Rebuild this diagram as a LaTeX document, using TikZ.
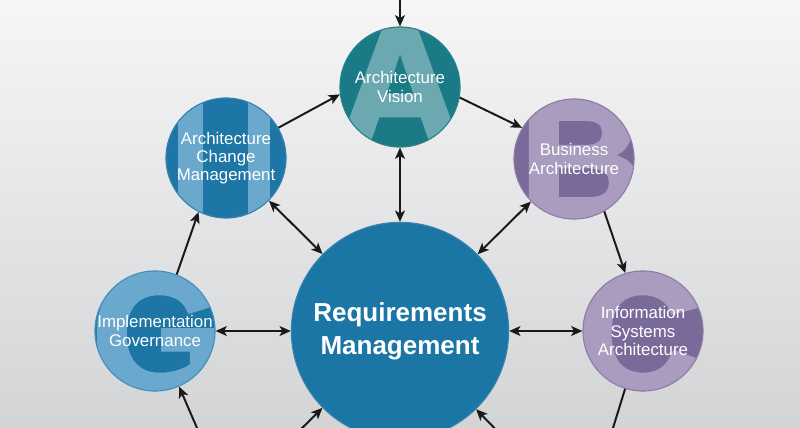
\documentclass[tikz,border=0pt]{standalone}
\usepackage{fontspec}
\setmainfont{Liberation Sans}
\newfontfamily\giantface[FakeBold=3]{Liberation Sans Bold}
\usetikzlibrary{arrows.meta}
\definecolor{tealdark}{HTML}{1A7A85}
\definecolor{teallight}{HTML}{6BA8B0}
\definecolor{bluedark}{HTML}{1E76A6}
\definecolor{bluelight}{HTML}{6AA9CD}
\definecolor{purpledark}{HTML}{7A6A99}
\definecolor{purplelight}{HTML}{A99CBF}
\definecolor{reqblue}{HTML}{1B75A5}
\definecolor{bgtop}{HTML}{F6F6F7}
\definecolor{bgbottom}{HTML}{D3D4D6}
\newcommand{\giantfont}{\giantface\fontsize{122}{122}\selectfont}
\begin{document}
\begin{tikzpicture}[x=0.025cm, y=-0.025cm,
    >={Stealth[length=8pt, width=7pt, inset=2pt]},
    phase/.style={circle, minimum size=3cm, inner sep=0pt, line width=0.8pt,
      text=white, align=center, font=\fontsize{12}{13}\selectfont},
    giant/.style n args={4}{path picture={
      \node[rectangle, minimum size=0pt, inner sep=0pt, anchor=base,
        font=\giantfont, text=#2]
        at ([shift={(#3,#4)}]path picture bounding box.center) {#1};}},
    stems/.style={path picture={
      \fill[bluelight] ([shift={(-48,-80)}]path picture bounding box.center)
        rectangle ++(25,160);
      \fill[bluelight] ([shift={(22,-80)}]path picture bounding box.center)
        rectangle ++(22,160);}},
    link/.style={line width=1.4pt, black!90}]
  \useasboundingbox (0,0) rectangle (800,427);
  \clip (0,0) rectangle (800,427);
  \shade[top color=bgtop, bottom color=bgbottom] (0,0) rectangle (800,427);

  \node[phase, fill=tealdark, draw=tealdark!80!teallight,
    giant={A}{teallight}{0}{58}] (A) at (400,87) {Architecture\\Vision};
  \node[phase, fill=bluedark, draw=bluedark!70!bluelight, stems]
    (H) at (226,158) {Architecture\\Change\\Management};
  \node[phase, fill=purpledark, draw=purpledark!60!purplelight,
    giant={B}{purplelight}{8}{59}] (B) at (574,159) {Business\\Architecture};
  \node[phase, fill=bluedark, draw=bluedark!50!bluelight,
    giant={G}{bluelight}{4}{62}] (G) at (155,331) {Implementation\\Governance};
  \node[phase, fill=purpledark, draw=purpledark!60!purplelight,
    giant={C}{purplelight}{-4}{62}] (C) at (643,331)
    {Information\\Systems\\Architecture};
  \node[circle, minimum size=5.43cm, inner sep=0pt, fill=reqblue,
    draw=reqblue!90!white, line width=0.8pt, text=white, align=center,
    font=\bfseries\fontsize{18.5}{23.5}\selectfont]
    (R) at (400,331) {Requirements\\Management};

  \coordinate (top) at (400,-30);
  \coordinate (gin) at (207,451);
  \coordinate (fin) at (290,440);
  \coordinate (din) at (506,440);
  \coordinate (dout) at (600,470);

  \draw [link, ->] (top) to (A);
  \draw [link, ->] (H.30) to (A.187);
  \draw [link, ->] (A.-10) to (B.149);
  \draw [link, ->] (B.-60) to (C.107);
  \draw [link, ->] (G.69) to (H.-117);
  \draw [link, <->] (A) to (R);
  \draw [link, <->] (H) to (R);
  \draw [link, <->] (B) to (R);
  \draw [link, <->] (G) to (R);
  \draw [link, <->] (C) to (R);
  \draw [link] (C) to (dout);
  \draw [link, ->] (gin) to (G);
  \draw [link, ->] (fin) to (R);
  \draw [link, ->] (din) to (R);
\end{tikzpicture}
\end{document}
